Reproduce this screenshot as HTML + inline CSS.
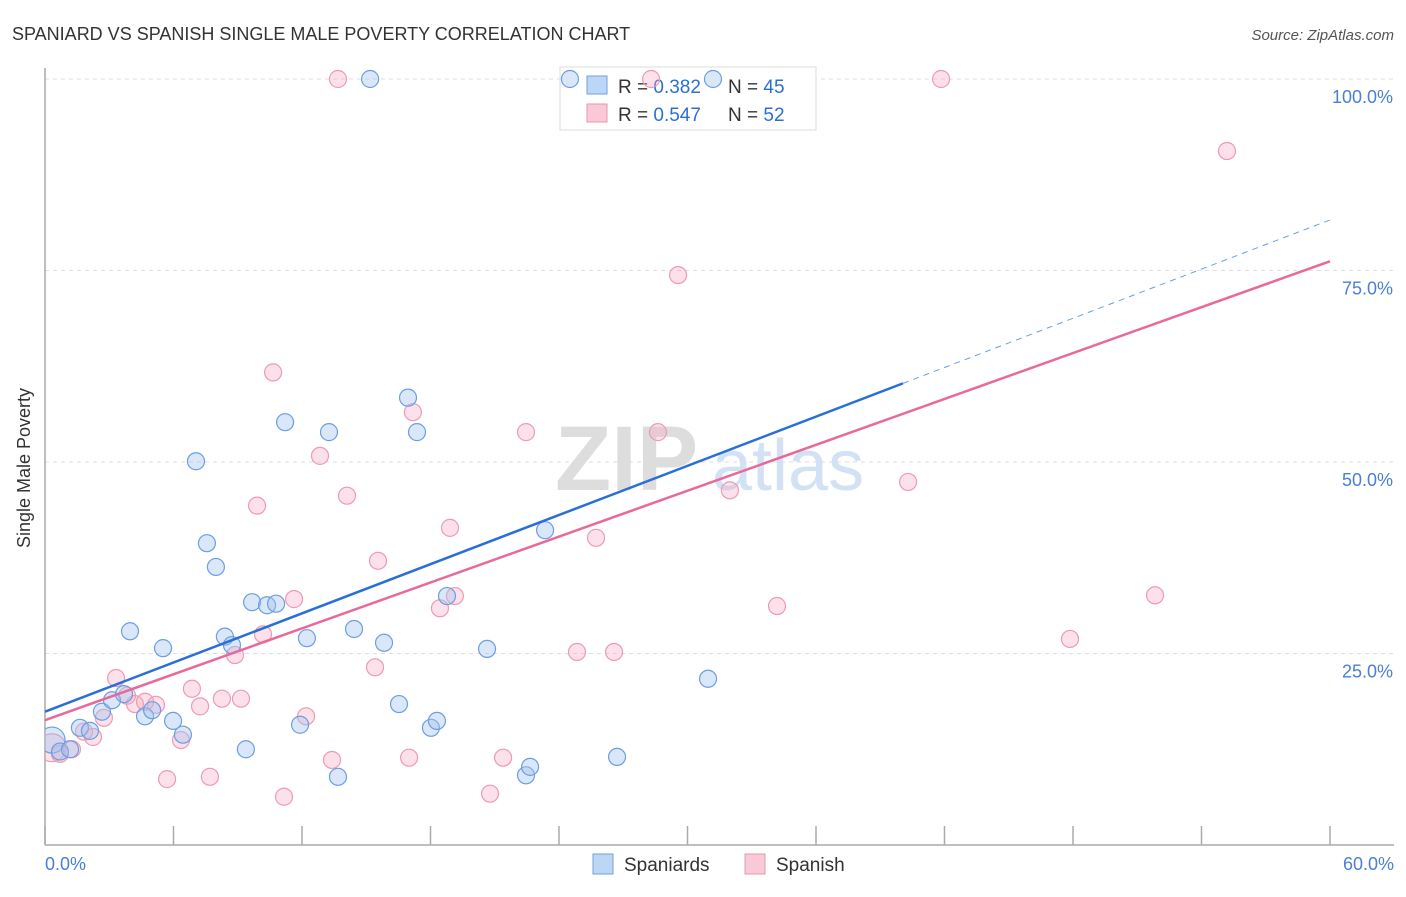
<!DOCTYPE html>
<html><head><meta charset="utf-8"><style>
body{margin:0;background:#fff;font-family:"Liberation Sans",sans-serif;}
svg text{font-family:"Liberation Sans",sans-serif;}
</style></head><body>
<svg id="chart" width="1406" height="892">
<defs><clipPath id="pc"><rect x="45" y="60" width="1300" height="785"/></clipPath></defs>
<text x="12" y="40" font-size="18" fill="#333">SPANIARD VS SPANISH SINGLE MALE POVERTY CORRELATION CHART</text>
<text x="1394" y="40" font-size="15" fill="#555" font-style="italic" text-anchor="end">Source: ZipAtlas.com</text>
<g id="grid"></g>
<g><text x="555" y="490" font-size="92" fill="#ddd" font-family="Liberation Serif" font-weight="bold">ZIP</text><text x="712" y="490" font-size="72" fill="#d2e2f4">atlas</text></g>
<line x1="45" y1="68" x2="45" y2="845" stroke="#aaa" stroke-width="1.5"/>
<line x1="45" y1="845" x2="1394" y2="845" stroke="#aaa" stroke-width="1.5"/>
<g id="ticks"></g>
<g>
<rect x="560" y="67" width="256" height="63" fill="#fff" stroke="#ddd"/>
<rect x="587" y="76" width="20" height="18" fill="#bcd6f5" stroke="#6fa1e0"/>
<text x="618" y="93" font-size="19" fill="#333">R = <tspan fill="#2b6fd6">0.382</tspan></text>
<text x="728" y="93" font-size="19" fill="#333">N = <tspan fill="#2b6fd6">45</tspan></text>
<rect x="587" y="104" width="20" height="18" fill="#f9c9d7" stroke="#ec93ae"/>
<text x="618" y="121" font-size="19" fill="#333">R = <tspan fill="#2b6fd6">0.547</tspan></text>
<text x="728" y="121" font-size="19" fill="#333">N = <tspan fill="#2b6fd6">52</tspan></text>
</g>
<g id="pts" clip-path="url(#pc)"></g>
<g id="lines"></g>
<text x="18" y="456" font-size="18" fill="#333" transform="rotate(-90 30 456)" text-anchor="middle">Single Male Poverty</text>
<text x="45" y="870" font-size="18" fill="#4a7fd6">0.0%</text>
<text x="1394" y="870" font-size="18" fill="#4a7fd6" text-anchor="end">60.0%</text>
<g>
<rect x="593" y="854" width="20" height="20" fill="#bcd6f5" stroke="#6fa1e0"/>
<text x="624" y="871" font-size="19" fill="#333">Spaniards</text>
<rect x="745" y="854" width="20" height="20" fill="#f9c9d7" stroke="#ec93ae"/>
<text x="776" y="871" font-size="19" fill="#333">Spanish</text>
</g>
</svg>
<script>
const yTicks=[25,50,75,100];
const yTickLabels=["25.0%","50.0%","75.0%","100.0%"];
const xTicks=[0,6,12,18,24,30,36,42,48,54,60];
const blueX=[0.33,0.7,1.17,1.63,2.1,2.66,3.13,3.69,3.97,4.67,5.0,5.51,5.98,6.44,7.05,7.56,7.98,8.4,8.73,9.38,9.67,10.37,10.79,11.21,11.91,12.23,13.26,13.68,14.43,15.18,15.83,16.53,16.95,17.37,18.02,18.3,18.77,20.64,22.46,22.65,23.35,24.51,26.71,30.96,31.19];
const blueY=[13.7,12.2,12.5,15.3,14.9,17.4,18.9,19.7,27.9,16.8,17.6,25.7,16.2,14.4,50.1,39.4,36.3,27.2,26.1,12.5,31.7,31.3,31.5,55.2,15.7,27.0,53.9,8.9,28.2,100,26.4,18.4,58.4,53.9,15.3,16.2,32.5,25.6,9.1,10.2,41.1,100,11.5,21.7,100];
const pinkX=[0.33,0.7,1.26,1.82,2.24,2.75,3.32,3.83,4.2,4.67,5.18,5.7,6.35,6.86,7.24,7.7,8.26,8.87,9.15,9.9,10.18,10.65,11.16,11.63,12.19,12.84,13.4,13.68,14.1,15.55,15.41,17.0,17.18,18.44,18.91,19.14,20.78,21.39,22.46,24.84,25.73,26.57,28.3,28.62,29.56,31.98,34.18,40.3,41.84,47.86,51.83,55.19];
const pinkY=[12.7,11.9,12.5,14.8,14.1,16.6,21.8,19.5,18.4,18.7,18.3,8.6,13.7,20.4,18.1,8.9,19.1,24.8,19.1,44.3,27.5,61.7,6.3,32.1,16.8,50.8,11.1,100,45.6,37.1,23.2,11.4,56.5,30.9,41.4,32.5,6.7,11.4,53.9,25.2,40.1,25.2,100,53.9,74.4,46.3,31.2,47.4,100,26.9,32.6,90.6];
const blueLine=[17.4,81.6];
const blueSolidEnd=[40.06];
const pinkLine=[16.3,76.2];
const NS="http://www.w3.org/2000/svg";
const X=v=>45+v*(1330-45)/60;
const Y=v=>845-v*(845-79)/100;
function mk(tag,attrs,parent){const e=document.createElementNS(NS,tag);for(const k in attrs)e.setAttribute(k,attrs[k]);parent.appendChild(e);return e;}
const grid=document.getElementById('grid');
yTicks.forEach((t,i)=>{
  const l=mk('line',{x1:45,x2:1394,y1:Y(t),y2:Y(t),stroke:'#ddd','stroke-dasharray':'4,4'},grid);
  
  
  const tx=mk('text',{x:1393,y:Y(t)+24,'font-size':18,fill:'#4a7fd6','text-anchor':'end'},grid);
  tx.textContent=yTickLabels[i];
  
  
});
const ticks=document.getElementById('ticks');
xTicks.forEach(t=>{
  const l=mk('line',{x1:X(t),x2:X(t),y1:826,y2:845,stroke:'#aaa','stroke-width':1.5},ticks);
  
  
});
const pts=document.getElementById('pts');
function pt(x,y,fill,stroke,r){
  const c=mk('circle',{cx:X(x),cy:Y(y),r:r,fill:fill,stroke:stroke,'stroke-width':1.2},pts);
  
  
}
pinkX.forEach((x,i)=>pt(x,pinkY[i],'rgba(246,170,195,0.35)','#ee9ab3',i===0?14:8.5));
blueX.forEach((x,i)=>pt(x,blueY[i],'rgba(160,196,240,0.4)','#6b9fe0',i===0?13:8.5));
const lines=document.getElementById('lines');
const bAt=x=>blueLine[0]+(blueLine[1]-blueLine[0])*x/60;
const pAt=x=>pinkLine[0]+(pinkLine[1]-pinkLine[0])*x/60;
let l1=mk('line',{x1:X(0),y1:Y(bAt(0)),x2:X(blueSolidEnd[0]),y2:Y(bAt(blueSolidEnd[0])),stroke:'#2a6fd8','stroke-width':2.5},lines);


let l2=mk('line',{x1:X(blueSolidEnd[0]),y1:Y(bAt(blueSolidEnd[0])),x2:X(60),y2:Y(bAt(60)),stroke:'#6b9fe0','stroke-width':1,'stroke-dasharray':'6,5'},lines);


let l3=mk('line',{x1:X(0),y1:Y(pAt(0)),x2:X(60),y2:Y(pAt(60)),stroke:'#e8699a','stroke-width':2.5},lines);


</script>
</body></html>
